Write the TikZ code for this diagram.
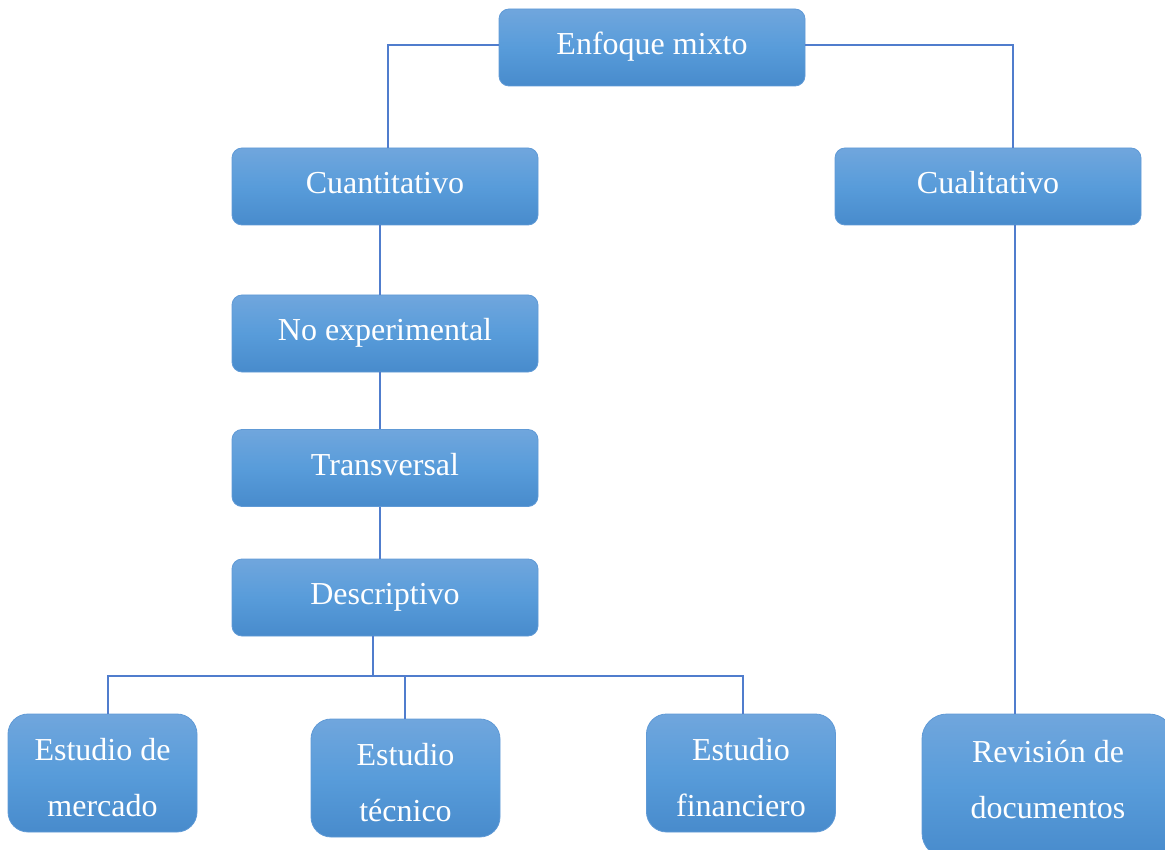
\documentclass[tikz,border=0pt]{standalone}
\usepackage{fontspec}
\setmainfont{Liberation Serif}
\definecolor{boxtop}{RGB}{112,166,221}
\definecolor{boxmid}{RGB}{88,156,218}
\definecolor{boxbot}{RGB}{72,139,204}
\definecolor{boxedge}{RGB}{96,154,214}
\definecolor{linkcol}{RGB}{80,125,205}
\tikzset{
  box/.style={draw=boxedge, line width=0.8pt, top color=boxtop, bottom color=boxbot,
    middle color=boxmid, text=white, inner sep=0pt,
    font=\fontsize{32}{56}\selectfont},
  widebox/.style={box, rounded corners=10pt, minimum width=306pt, minimum height=77pt,
    text height=21pt, text depth=7pt},
  smallbox/.style={box, rounded corners=20pt, minimum width=189pt, minimum height=118pt,
    align=center},
  link/.style={draw=linkcol, line width=1.3pt}
}
\newcommand{\upstrut}{\rule{0pt}{32pt}}
\begin{document}
\begin{tikzpicture}[x=1pt, y=-1pt]
  \useasboundingbox (0,0) rectangle (1165,850);
  \clip (0,0) rectangle (1165,850);

  % upper chain of wide boxes
  \node[widebox] (top)   at (652,47.5)  {Enfoque mixto};
  \node[widebox] (cuan)  at (385,186.5) {Cuantitativo};
  \node[widebox] (cual)  at (988,186.5) {Cualitativo};
  \node[widebox] (noexp) at (385,333.5) {No experimental};
  \node[widebox] (trans) at (385,468)   {Transversal};
  \node[widebox] (desc)  at (385,597.5) {Descriptivo};

  % bottom row
  \node[smallbox] (merc) at (102.5,773) {\upstrut Estudio de\\mercado};
  \node[smallbox] (tec)  at (405.5,778) {\upstrut Estudio\\técnico};
  \node[smallbox] (fin)  at (741,773)   {\upstrut Estudio\\financiero};
  \node[smallbox, rounded corners=25pt, minimum width=252pt, minimum height=144pt]
       (rev) at (1048,786) {\upstrut Revisión de\\documentos\rule[-24pt]{0pt}{24pt}};

  % connectors
  \draw[link] ([yshift=2.5pt]top.west) -| ([xshift=3pt]cuan.north);
  \draw[link] ([yshift=2.5pt]top.east) -| ([xshift=25pt]cual.north);
  \draw[link] ([xshift=-5pt]cuan.south) -- ([xshift=-5pt]noexp.north);
  \draw[link] ([xshift=-5pt]noexp.south) -- ([xshift=-5pt]trans.north);
  \draw[link] ([xshift=-5pt]trans.south) -- ([xshift=-5pt]desc.north);

  \coordinate (bus) at (373,676);
  \draw[link] ([xshift=-12pt]desc.south) -- (bus);
  \draw[link] (bus) -| ([xshift=5.5pt]merc.north);
  \draw[link] (bus) -| ([xshift=2pt]fin.north);
  \draw[link] ([xshift=-0.5pt]bus -| tec.north) -- ([xshift=-0.5pt]tec.north);

  \draw[link] ([xshift=27pt]cual.south) -- ([xshift=27pt]cual.south |- rev.north);
\end{tikzpicture}
\end{document}
